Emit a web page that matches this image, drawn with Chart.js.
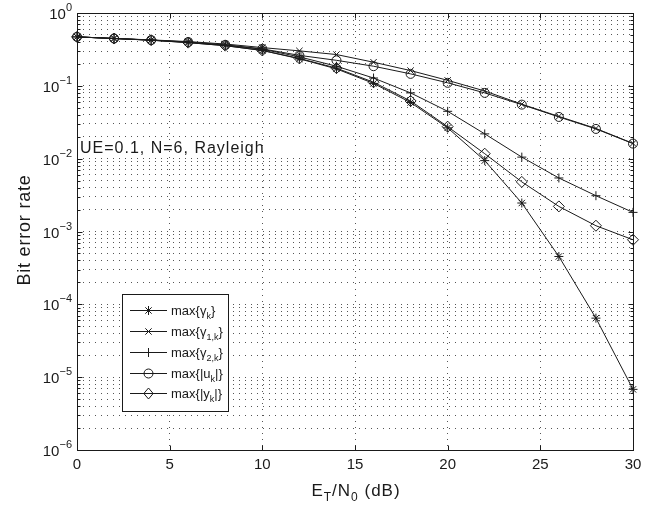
<!DOCTYPE html>
<html>
<head>
<meta charset="utf-8">
<script src="https://cdn.jsdelivr.net/npm/chart.js@4.4.1/dist/chart.umd.min.js"></script>
<style>
  html, body { margin: 0; padding: 0; background: #fff; }
  #wrap { width: 663px; height: 506px; position: relative; }
</style>
</head>
<body>
<div id="wrap"><canvas id="berChart"></canvas></div>
<script>
// E_T/N_0 in dB and the bit error rate of each selection rule
const snrDb = [0, 2, 4, 6, 8, 10, 12, 14, 16, 18, 20, 22, 24, 26, 28, 30];
const berGammaK  = [0.47, 0.446, 0.423, 0.392, 0.356, 0.306, 0.235, 0.171, 0.108, 0.059, 0.0265, 0.0094, 0.00246, 0.000454, 0.0000646, 0.0000068];
const berGamma1K = [0.47, 0.448, 0.427, 0.405, 0.375, 0.335, 0.302, 0.269, 0.211, 0.162, 0.119, 0.085, 0.056, 0.038, 0.026, 0.0162];
const berGamma2K = [0.47, 0.447, 0.425, 0.397, 0.362, 0.318, 0.25, 0.186, 0.128, 0.08, 0.0447, 0.0219, 0.0105, 0.00543, 0.0031, 0.00183];
const berAbsU    = [0.47, 0.447, 0.425, 0.4, 0.366, 0.322, 0.262, 0.224, 0.186, 0.146, 0.11, 0.08, 0.0552, 0.0374, 0.0256, 0.0161];
const berAbsY    = [0.47, 0.446, 0.423, 0.392, 0.356, 0.306, 0.238, 0.175, 0.112, 0.062, 0.0275, 0.0117, 0.0048, 0.00221, 0.0012, 0.00077];

const xTicks = [0, 5, 10, 15, 20, 25, 30];
const yDecades = [0, -1, -2, -3, -4, -5, -6];
const note = 'UE=0.1, N=6, Rayleigh';

// legend labels: [text, 'n' | 'sub'] pieces
const legendLabels = [
    [['max{γ', 'n'], ['k', 'sub'], ['}', 'n']],
    [['max{γ', 'n'], ['1,k', 'sub'], ['}', 'n']],
    [['max{γ', 'n'], ['2,k', 'sub'], ['}', 'n']],
    [['max{|u', 'n'], ['k', 'sub'], ['|}', 'n']],
    [['max{|y', 'n'], ['k', 'sub'], ['|}', 'n']]
];
const markerStyles = ['star', 'crossRot', 'cross', 'circle', 'rectRot'];
const markerSizes = [4.5, 4.5, 4.5, 4.5, 5.5];

const INK = '#1a1a1a';
const FONT = '"Liberation Sans", Arial, sans-serif';

// all minor + major values for the log grid
const yGrid = [];
for (let k = -6; k < 0; k++) {
    for (let m = 1; m < 10; m++) yGrid.push(m * Math.pow(10, k));
}
yGrid.push(1);

function toPoints(arr) {
    return snrDb.map((x, i) => ({ x: x, y: arr[i] }));
}

function drawRich(ctx, parts, x, y, size, align) {
    let total = 0;
    parts.forEach(p => {
        ctx.font = (p[1] === 'n' ? size : Math.round(size * 0.72)) + 'px ' + FONT;
        total += ctx.measureText(p[0]).width;
    });
    let cx = align === 'center' ? x - total / 2 : x;
    ctx.textAlign = 'left';
    ctx.textBaseline = 'alphabetic';
    parts.forEach(p => {
        let dy = 0;
        if (p[1] === 'sub') dy = size * 0.3;
        if (p[1] === 'sup') dy = -size * 0.45;
        ctx.font = (p[1] === 'n' ? size : Math.round(size * 0.72)) + 'px ' + FONT;
        ctx.fillText(p[0], cx, y + dy);
        cx += ctx.measureText(p[0]).width;
    });
}

function drawMarker(ctx, style, x, y, r) {
    const d = r * Math.SQRT1_2;
    ctx.beginPath();
    if (style === 'circle') {
        ctx.arc(x, y, r, 0, Math.PI * 2);
    } else if (style === 'rectRot') {
        ctx.moveTo(x, y - r); ctx.lineTo(x + r * 0.85, y); ctx.lineTo(x, y + r); ctx.lineTo(x - r * 0.85, y); ctx.closePath();
    } else {
        if (style === 'cross' || style === 'star') {
            ctx.moveTo(x - r, y); ctx.lineTo(x + r, y);
            ctx.moveTo(x, y - r); ctx.lineTo(x, y + r);
        }
        if (style === 'crossRot' || style === 'star') {
            ctx.moveTo(x - d, y - d); ctx.lineTo(x + d, y + d);
            ctx.moveTo(x - d, y + d); ctx.lineTo(x + d, y - d);
        }
    }
    ctx.stroke();
}

const matlabFrame = {
    id: 'matlabFrame',
    afterDatasetsDraw(chart) {
        const ctx = chart.ctx;
        const area = chart.chartArea;
        const xs = chart.scales.x;
        const ys = chart.scales.y;
        ctx.save();
        ctx.strokeStyle = INK;
        ctx.fillStyle = INK;
        ctx.lineWidth = 1;

        // box
        const L = Math.round(area.left) + 0.5, R = Math.round(area.right) + 0.5;
        const T = Math.round(area.top) + 0.5, B = Math.round(area.bottom) + 0.5;
        ctx.strokeRect(L, T, R - L, B - T);

        // inward ticks
        ctx.beginPath();
        xTicks.forEach(v => {
            const px = Math.round(xs.getPixelForValue(v)) + 0.5;
            ctx.moveTo(px, B); ctx.lineTo(px, B - 5);
            ctx.moveTo(px, T); ctx.lineTo(px, T + 5);
        });
        yGrid.forEach(v => {
            const py = Math.round(ys.getPixelForValue(v)) + 0.5;
            const major = Math.abs(Math.log10(v) - Math.round(Math.log10(v))) < 1e-9;
            const len = major ? 5 : 3;
            ctx.moveTo(L, py); ctx.lineTo(L + len, py);
            ctx.moveTo(R, py); ctx.lineTo(R - len, py);
        });
        ctx.stroke();

        // x tick labels
        ctx.font = '15px ' + FONT;
        ctx.textAlign = 'center';
        ctx.textBaseline = 'alphabetic';
        xTicks.forEach(v => {
            ctx.fillText(String(v), xs.getPixelForValue(v), 469);
        });

        // y tick labels 10^k
        yDecades.forEach(k => {
            const py = ys.getPixelForValue(Math.pow(10, k));
            const sup = k === 0 ? '0' : '\u2212' + (-k);
            ctx.font = '11px ' + FONT;
            const wSup = ctx.measureText(sup).width;
            ctx.font = '15px ' + FONT;
            const wBase = ctx.measureText('10').width;
            const right = 72;
            ctx.textAlign = 'left';
            ctx.fillText('10', right - wSup - wBase, py + 6);
            ctx.font = '11px ' + FONT;
            ctx.fillText(sup, right - wSup, py - 2);
        });

        // axis titles
        ctx.letterSpacing = '1px';
        drawRich(ctx, [['E', 'n'], ['T', 'sub'], ['/N', 'n'], ['0', 'sub'], [' (dB)', 'n']],
            (area.left + area.right) / 2 + 1, 496, 17, 'center');
        ctx.save();
        ctx.translate(30, 230);
        ctx.rotate(-Math.PI / 2);
        ctx.font = '18px ' + FONT;
        ctx.letterSpacing = '0.8px';
        ctx.textAlign = 'center';
        ctx.textBaseline = 'alphabetic';
        ctx.fillText('Bit error rate', 0, 0);
        ctx.restore();

        // annotation
        ctx.font = '16px ' + FONT;
        ctx.letterSpacing = '1px';
        ctx.textAlign = 'left';
        ctx.fillText(note, 80, 153);
        ctx.letterSpacing = '0px';

        // legend box
        const lx = 122.5, ly = 294.5, lw = 106, lh = 117;
        ctx.fillStyle = '#fff';
        ctx.fillRect(lx, ly, lw, lh);
        ctx.strokeRect(lx, ly, lw, lh);
        ctx.fillStyle = INK;
        const rows = [310, 331, 352, 373, 393];
        legendLabels.forEach((parts, i) => {
            const yy = rows[i] + 0.5;
            ctx.beginPath();
            ctx.moveTo(130, yy); ctx.lineTo(167, yy);
            ctx.stroke();
            drawMarker(ctx, markerStyles[i], 148.5, yy, markerSizes[i]);
            drawRich(ctx, parts, 171, rows[i] + 5, 13, 'left');
        });
        ctx.restore();
    }
};

const seriesList = [berGammaK, berGamma1K, berGamma2K, berAbsU, berAbsY];
const datasets = seriesList.map((arr, i) => ({
    label: legendLabels[i].map(p => p[0]).join(''),
    data: toPoints(arr),
    borderColor: INK,
    borderWidth: 1,
    pointStyle: markerStyles[i],
    pointRadius: markerSizes[i],
    pointBorderColor: INK,
    pointBorderWidth: 1,
    pointBackgroundColor: 'rgba(0,0,0,0)',
    tension: 0,
    clip: 10
}));

const ctx = document.getElementById('berChart').getContext('2d');
const berChart = new Chart(ctx, {
    type: 'line',
    data: { datasets: datasets },
    options: {
        responsive: true,
        maintainAspectRatio: false,
        animation: false,
        layout: { padding: { left: 77, right: 30, top: 13, bottom: 56 } },
        plugins: { legend: { display: false }, tooltip: { enabled: false } },
        scales: {
            x: {
                type: 'linear', min: 0, max: 30,
                afterBuildTicks: s => { s.ticks = xTicks.map(v => ({ value: v })); },
                ticks: { display: false },
                grid: { color: '#555', lineWidth: 1, drawTicks: false },
                border: { display: false, dash: [1, 5] }
            },
            y: {
                type: 'logarithmic', min: 1e-6, max: 1,
                afterBuildTicks: s => { s.ticks = yGrid.map(v => ({ value: v })); },
                ticks: { display: false },
                grid: { color: '#555', lineWidth: 1, drawTicks: false },
                border: { display: false, dash: [1, 5] }
            }
        }
    },
    plugins: [matlabFrame]
});
</script>
</body>
</html>
